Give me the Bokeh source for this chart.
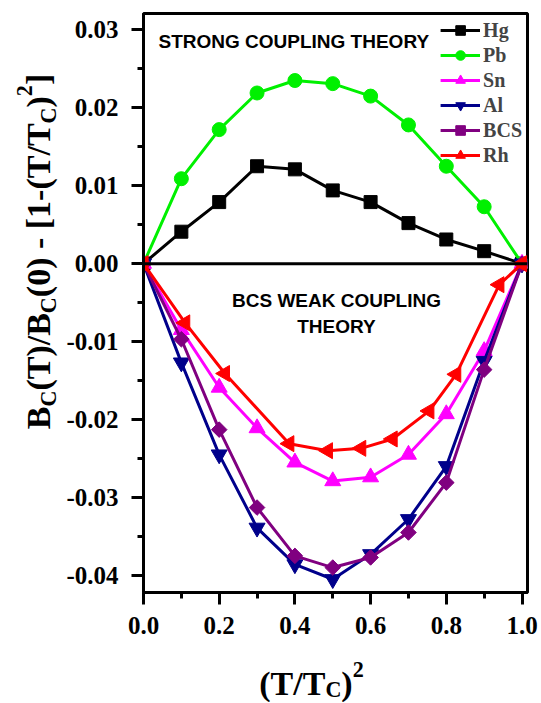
import math
from bokeh.plotting import figure
from bokeh.layouts import row, column
from bokeh.models import Range1d, FixedTicker, Span, Label, Legend, LegendItem, PrintfTickFormatter
from bokeh.embed import file_html
from bokeh.resources import INLINE

# ---------------- data ----------------
x_vals = [0.0, 0.1, 0.2, 0.3, 0.4, 0.5, 0.6, 0.7, 0.8, 0.9, 1.0]
hg = [0.0, 0.0041, 0.0079, 0.0125, 0.0121, 0.0094, 0.0079, 0.0052, 0.0031, 0.0016, 0.0]
pb = [0.0, 0.0109, 0.0172, 0.0219, 0.0235, 0.0231, 0.0215, 0.0178, 0.0125, 0.0073, 0.0]
sn = [0.0, -0.0085, -0.0159, -0.0211, -0.0255, -0.0279, -0.0274, -0.0245, -0.0193, -0.0112, 0.0]
al = [0.0, -0.0127, -0.0245, -0.0339, -0.0386, -0.0405, -0.0373, -0.0328, -0.0260, -0.0125, 0.0]
bcs = [0.0, -0.0097, -0.0213, -0.0313, -0.0375, -0.0390, -0.0377, -0.0345, -0.0281, -0.0136, 0.0]
rh_x = [0.0, 0.11, 0.215, 0.385, 0.487, 0.575, 0.658, 0.755, 0.826, 0.94, 1.0]
rh = [0.0, -0.0076, -0.0141, -0.0231, -0.0240, -0.0237, -0.0225, -0.0189, -0.0142, -0.0027, 0.0]

series_names = ["Hg", "Pb", "Sn", "Al", "BCS", "Rh"]

x_ticks = [0.0, 0.2, 0.4, 0.6, 0.8, 1.0]
x_tick_labels = ["0.0", "0.2", "0.4", "0.6", "0.8", "1.0"]
x_minor = [0.1, 0.3, 0.5, 0.7, 0.9]
y_ticks = [-0.04, -0.03, -0.02, -0.01, 0.0, 0.01, 0.02, 0.03]
y_tick_labels = ["-0.04", "-0.03", "-0.02", "-0.01", "0.00", "0.01", "0.02", "0.03"]
y_minor = [-0.035, -0.025, -0.015, -0.005, 0.005, 0.015, 0.025]

# ---------------- layout sizes ----------------
TOTAL_W, TOTAL_H = 540, 702
LEFT_W = 60
MAIN_H = 645
FRAME_BOTTOM = 592  # page y of the plot frame's bottom edge (frames are aligned in the row)

# ---------------- main figure ----------------
p = figure(width=TOTAL_W - LEFT_W, height=MAIN_H, output_backend="svg", toolbar_location=None,
           x_range=Range1d(0.0, 1.0145), y_range=Range1d(-0.0422, 0.0321),
           min_border_left=83, min_border_right=13, min_border_top=13,
           min_border_bottom=MAIN_H - FRAME_BOTTOM)
p.grid.visible = False
p.outline_line_color = "black"
p.outline_line_width = 3
p.background_fill_color = "white"
p.border_fill_color = "white"

p.xaxis.ticker = FixedTicker(ticks=x_ticks, minor_ticks=x_minor)
p.yaxis.ticker = FixedTicker(ticks=y_ticks, minor_ticks=y_minor)
p.xaxis.formatter = PrintfTickFormatter(format="%.1f")
p.yaxis.formatter = PrintfTickFormatter(format="%.2f")
p.xaxis.major_label_overrides = dict(zip(x_ticks, x_tick_labels))
p.yaxis.major_label_overrides = dict(zip(y_ticks, y_tick_labels))

for ax in (p.xaxis[0], p.yaxis[0]):
    ax.axis_line_width = 3
    ax.axis_line_color = "black"
    ax.major_tick_line_width = 3
    ax.minor_tick_line_width = 3
    ax.major_tick_out = 12
    ax.major_tick_in = 0
    ax.minor_tick_out = 6
    ax.minor_tick_in = 0
    ax.major_label_text_font = "Liberation Serif"
    ax.major_label_text_font_style = "bold"
    ax.major_label_text_font_size = "25px"
    ax.major_label_text_color = "black"
p.xaxis.major_label_standoff = 12
p.yaxis.major_label_standoff = 13

p.add_layout(Span(location=0, dimension="width", line_color="black", line_width=3))

styles = [
    ("black", "square", 13, 0.0),
    ("#00f000", "circle", 14, 0.0),
    ("#ff00ff", "triangle", 16, 0.0),
    ("#00008b", "inverted_triangle", 16, 0.0),
    ("#800080", "square", 11, math.pi / 4),
    ("#ff0000", "triangle", 16, math.pi / 2),
]
xs_all = [x_vals, x_vals, x_vals, x_vals, x_vals, rh_x]
ys_all = [hg, pb, sn, al, bcs, rh]

items = []
for name, xs, ys, (color, marker, size, ang) in zip(series_names, xs_all, ys_all, styles):
    r1 = p.line(xs, ys, line_color=color, line_width=3)
    r2 = p.scatter(xs, ys, marker=marker, size=size, angle=ang,
                   fill_color=color, line_color=color, line_width=1)
    items.append(LegendItem(label=name, renderers=[r1, r2]))

legend = Legend(items=items, location="top_right", border_line_color=None,
                background_fill_alpha=0, label_text_font="Liberation Serif",
                label_text_font_style="bold", label_text_font_size="20px",
                glyph_width=40, glyph_height=24, label_height=24, spacing=1,
                padding=0, margin=5, label_standoff=3)
p.add_layout(legend)


def ann(txt, x, y, align="left"):
    p.add_layout(Label(x=x, y=y, x_units="screen", y_units="screen", text=txt,
                       text_font="Liberation Sans", text_font_style="bold",
                       text_font_size="19px", text_align=align,
                       text_baseline="alphabetic", text_color="black"))


ann("STRONG COUPLING THEORY", 15, 551)
ann("BCS WEAK COUPLING", 193, 292, "center")
ann("THEORY", 193, 266, "center")


# ---------------- label panels ----------------
def blank(w, h):
    f = figure(width=w, height=h, output_backend="svg", toolbar_location=None,
               x_axis_location=None, y_axis_location=None, min_border=0,
               x_range=Range1d(0, w), y_range=Range1d(0, h))
    f.grid.visible = False
    f.outline_line_color = None
    f.background_fill_color = "white"
    f.border_fill_color = "white"
    return f


ylab = blank(LEFT_W, MAIN_H)
xlab = blank(TOTAL_W, TOTAL_H - MAIN_H)

W = {'B': 667, 'C': 722, 'T': 667, '(': 333, ')': 333, '/': 278, '0': 500,
     '1': 500, '2': 500, ' ': 250, '-': 333, '[': 333, ']': 333}
F = 34
SUB = 0.65


def seg_w(s, kind):
    size = F if kind == "n" else F * SUB
    return sum(W[c] for c in s) / 1000.0 * size


def draw_title(fig, segs, center, base, vertical, sub_shift):
    total = sum(seg_w(s, k) for s, k in segs)
    pos = center - total / 2.0
    for s, k in segs:
        size = F if k == "n" else F * SUB
        shift = 0.0
        if k == "sub":
            shift = -sub_shift * F
        elif k == "sup":
            shift = 0.42 * F
        if vertical:
            lx, ly, ang = base - shift, pos, math.pi / 2
        else:
            lx, ly, ang = pos, base + shift, 0.0
        fig.add_layout(Label(x=lx, y=ly, x_units="screen", y_units="screen", text=s,
                             angle=ang, text_font="Liberation Serif", text_font_style="bold",
                             text_font_size=f"{size:.1f}px", text_align="left",
                             text_baseline="alphabetic", text_color="black"))
        pos += seg_w(s, k)


xlabel_segs = [("(T/T", "n"), ("C", "sub"), (")", "n"), ("2", "sup")]
ylabel_segs = [("B", "n"), ("C", "sub"), ("(T)/B", "n"), ("C", "sub"),
               ("(0) - [1-(T/T", "n"), ("C", "sub"), (")", "n"), ("2", "sup"), ("]", "n")]

draw_title(xlab, xlabel_segs, 311, 19, False, 0.18)
draw_title(ylab, ylabel_segs, FRAME_BOTTOM - 251, 38, True, 0.28)

layout = column(row(ylab, p), xlab)
open("out.html", "w").write(file_html(layout, INLINE))
